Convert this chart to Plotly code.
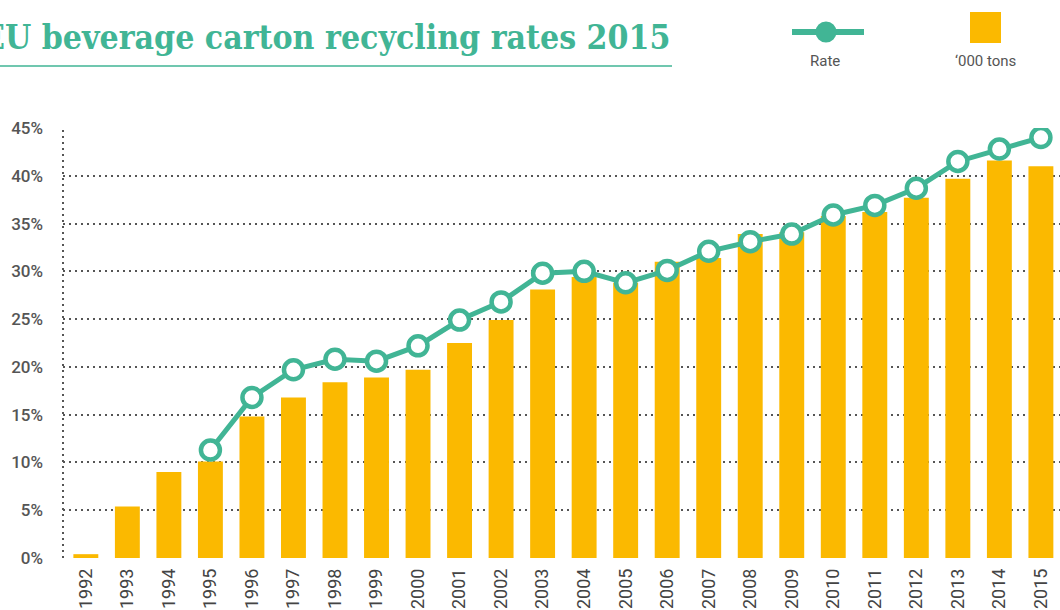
import plotly.graph_objects as go

years = [str(y) for y in range(1992, 2016)]
tons = [0.4, 5.4, 9.0, 10.1, 14.8, 16.8, 18.4, 18.9, 19.7, 22.5, 24.9, 28.1,
        29.4, 28.8, 31.0, 31.4, 33.9, 34.1, 35.8, 36.2, 37.7, 39.7, 41.6, 41.0]
rate_years = [str(y) for y in range(1995, 2016)]
rate = [11.3, 16.8, 19.7, 20.8, 20.6, 22.2, 24.9, 26.8, 29.8, 30.0, 28.8, 30.1,
        32.1, 33.1, 33.9, 35.9, 36.9, 38.7, 41.5, 42.8, 44.0]
yticks = [0, 5, 10, 15, 20, 25, 30, 35, 40, 45]
ylabels = [f"{v}%" for v in yticks]

TEAL = "#41b595"
ORANGE = "#fbb900"
GRID = "#555555"

W, H = 1060, 610
L, R, T, B = 63, 0, 128, 52
pw, ph = W - L - R, H - T - B


def px(x):
    return (x - L) / pw


def py(y):
    return (H - B - y) / ph


fig = go.Figure()
fig.add_trace(go.Bar(x=years, y=tons, marker=dict(color=ORANGE, line=dict(width=0)),
                     width=0.6, name="'000 tons", showlegend=False))
fig.add_trace(go.Scatter(x=rate_years, y=rate, mode="lines+markers", name="Rate",
                         line=dict(color=TEAL, width=5),
                         marker=dict(symbol="circle", size=19, color="white",
                                     line=dict(color=TEAL, width=4.5)),
                         showlegend=False))

fig.update_layout(
    width=W, height=H,
    margin=dict(l=L, r=R, t=T, b=B, autoexpand=False),
    paper_bgcolor="white", plot_bgcolor="white",
    bargap=0.4,
    xaxis=dict(type="category", range=[-0.55, 23.46], showgrid=False, showline=False,
               tickangle=-90, ticks="", ticklabelstandoff=6, automargin=False,
               tickfont=dict(family="Roboto", size=18, color="#444"),
               fixedrange=True),
    yaxis=dict(range=[0, 45], tickvals=yticks, ticktext=ylabels, showgrid=True,
               gridcolor=GRID, gridwidth=2, griddash="2px,4px", zeroline=False,
               showline=False, ticks="", ticklabelstandoff=19, automargin=False,
               tickfont=dict(family="Roboto", size=17, color="#555", weight=500),
               fixedrange=True),
    shapes=[
        dict(type="line", xref="paper", yref="paper", x0=0, x1=0, y0=0, y1=1,
             line=dict(color=GRID, width=2, dash="2px,4px"), layer="below"),
        dict(type="line", xref="paper", yref="paper", x0=px(0), x1=px(672),
             y0=py(66), y1=py(66), line=dict(color=TEAL, width=1.5)),
        dict(type="line", xref="paper", yref="paper", x0=px(792), x1=px(864),
             y0=py(32), y1=py(32), line=dict(color=TEAL, width=6)),
        dict(type="circle", xref="paper", yref="paper", x0=px(815.5), x1=px(836.5),
             y0=py(42.5), y1=py(21.5), fillcolor=TEAL, line=dict(color=TEAL, width=0)),
        dict(type="rect", xref="paper", yref="paper", x0=px(970), x1=px(1001),
             y0=py(43), y1=py(12), fillcolor=ORANGE, line=dict(width=0)),
    ],
    annotations=[
        dict(text="EU beverage carton recycling rates 2015", xref="paper", yref="paper",
             x=px(672), y=py(37), xanchor="right", yanchor="middle", showarrow=False,
             font=dict(family="DejaVu Serif Condensed", size=33.5, color=TEAL, weight="bold")),
        dict(text="Rate", xref="paper", yref="paper", x=px(825), y=py(61),
             xanchor="center", yanchor="middle", showarrow=False,
             font=dict(family="Roboto", size=15, color="#555")),
        dict(text="‘000 tons", xref="paper", yref="paper", x=px(985), y=py(61),
             xanchor="center", yanchor="middle", showarrow=False,
             font=dict(family="Roboto", size=15, color="#555")),
    ],
)

fig.write_html("out.html", config={"displayModeBar": False},
               post_script="document.body.style.margin='0';document.body.style.overflow='hidden';")
